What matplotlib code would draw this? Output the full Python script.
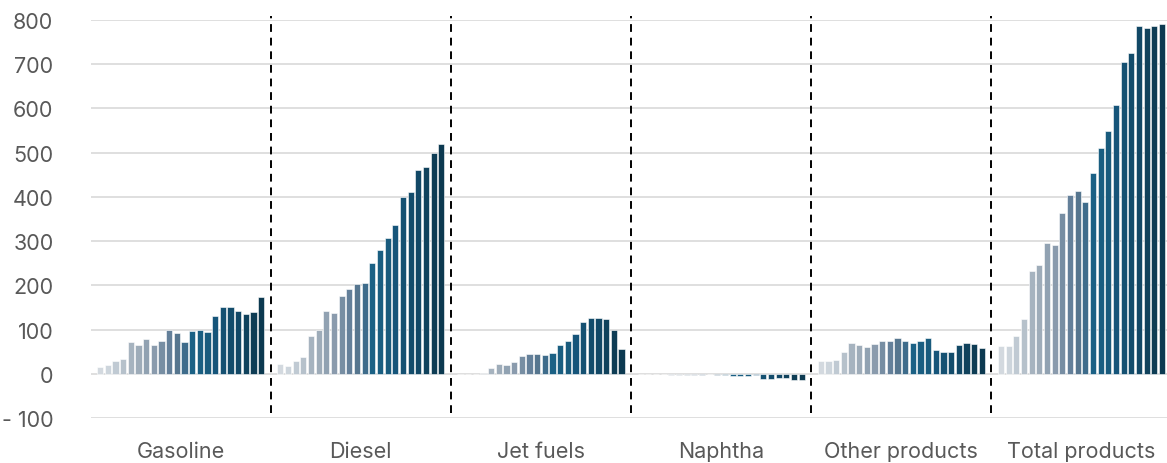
import numpy as np
import matplotlib
matplotlib.use("Agg")
import matplotlib.pyplot as plt

plt.rcParams['font.family'] = ['Inter', 'DejaVu Sans']

# data: one value per year (22 years) for each product
categories = ['Gasoline', 'Diesel', 'Jet fuels', 'Naphtha', 'Other products', 'Total products']
gasoline = [15, 20, 28, 34, 71, 66, 78, 66, 75, 98, 92, 72, 96, 98, 95, 130, 150, 152, 143, 136, 139, 174]
diesel = [23, 18, 29, 37, 85, 99, 141, 138, 177, 191, 202, 206, 251, 279, 306, 337, 400, 412, 460, 468, 500, 520]
jet_fuels = [-1, 0, 0, 1, 13, 21, 20, 26, 40, 44, 44, 43, 46, 66, 75, 90, 117, 126, 127, 123, 99, 56]
naphtha = [0, 0, 0, 0, -2, -3, -2, -2, -2, -1, -3, -3, -4, -6, -4, -2, -11, -11, -9, -10, -15, -15]
other_products = [28, 28, 31, 50, 69, 66, 60, 67, 74, 75, 82, 73, 69, 75, 80, 53, 49, 49, 66, 69, 67, 58]
total_products = [62, 63, 86, 123, 232, 246, 295, 292, 364, 404, 414, 388, 454, 511, 548, 607, 704, 725, 787, 782, 787, 792]
series = [gasoline, diesel, jet_fuels, naphtha, other_products, total_products]
yticks = [-100, 0, 100, 200, 300, 400, 500, 600, 700, 800]

year_colors = ['#d3d9df', '#cdd5dc', '#c0cad3', '#b6c1cb',
               '#a6b3bf', '#9eacb9', '#91a2b2', '#8a9bad',
               '#778ea3', '#64809a', '#56768f',
               '#3e6c8b', '#1b6185', '#1a5e81', '#195b7d',
               '#16557a', '#155172', '#134c6b', '#124866',
               '#10425c', '#0e3d55', '#0c3950']

group_step = 23.5

fig = plt.figure(figsize=(11.67, 4.64), dpi=100)
ax = fig.add_axes([91/1167, 45/464, 1076/1167, 398/464])

for g, vals in enumerate(series):
    x = g * group_step + np.arange(len(vals))
    ax.bar(x, vals, width=0.8, color=year_colors, edgecolor='white', linewidth=0.4, zorder=3)
    ax.text(g * group_step + 10.5, -0.083, categories[g], transform=ax.get_xaxis_transform(),
            ha='center', va='center', fontsize=15.5, color='#595959')

# dashed separators between groups
for g in range(1, len(series)):
    xs = g * group_step - 1.25
    ax.plot([xs, xs], [-88, 808], color='black', linestyle=(0, (4, 3)), linewidth=1.4,
            zorder=4, clip_on=False)

ax.set_xlim(-1.2, 5 * group_step + 21 + 0.65)
ax.set_ylim(-100, 800)
ax.set_yticks(yticks)
ax.set_yticklabels(['- 100' if v < 0 else str(v) for v in yticks])
ax.tick_params(axis='y', length=0, pad=27, labelsize=15.5, labelcolor='#595959')
ax.set_xticks([])
ax.grid(axis='y', color='#d9d9d9', linewidth=1.2, zorder=0)
for s in ax.spines.values():
    s.set_visible(False)

fig.savefig('out.png', dpi=100)
